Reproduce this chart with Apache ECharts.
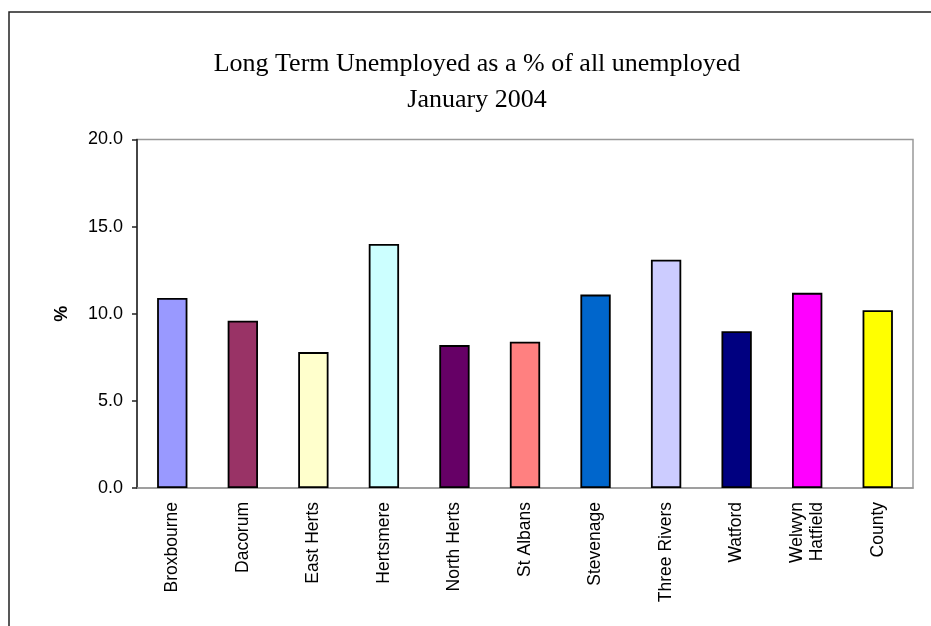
<!DOCTYPE html>
<html>
<head>
<meta charset="utf-8">
<script src="https://cdn.jsdelivr.net/npm/echarts@6/dist/echarts.min.js"></script>
<style>
html,body{margin:0;padding:0;background:#fff;}
#chart{width:931px;height:626px;}
</style>
</head>
<body>
<div id="chart"></div>
<script>
const titleLines = ['Long Term Unemployed as a % of all unemployed', 'January 2004'];
const categories = ['Broxbourne', 'Dacorum', 'East Herts', 'Hertsmere', 'North Herts', 'St Albans', 'Stevenage', 'Three Rivers', 'Watford', 'Welwyn\nHatfield', 'County'];
const values = [10.9, 9.6, 7.8, 14.0, 8.2, 8.4, 11.1, 13.1, 9.0, 11.2, 10.2];
const barColors = ['#9999FF', '#993366', '#FFFFCC', '#CCFFFF', '#660066', '#FF8080', '#0066CC', '#CCCCFF', '#000080', '#FF00FF', '#FFFF00'];
const yTicks = [0, 5, 20];
const yAxisName = '%';

const chart = echarts.init(document.getElementById('chart'), null, {renderer: 'canvas'});
chart.setOption({
  animation: false,
  backgroundColor: '#fff',
  graphic: [
    {type: 'rect', shape: {x: 9, y: 12, width: 960, height: 660}, style: {fill: 'none', stroke: '#222', lineWidth: 1.5}, silent: true, z: 0},
    {type: 'rect', shape: {x: 137, y: 139.5, width: 776, height: 348.5}, style: {fill: 'none', stroke: '#999', lineWidth: 1.5}, silent: true, z: 0},
    {type: 'text', x: 477, y: 64, style: {text: titleLines[0], font: '26px "Liberation Serif", "Times New Roman", serif', fill: '#000', textAlign: 'center', textVerticalAlign: 'middle'}},
    {type: 'text', x: 477, y: 100, style: {text: titleLines[1], font: '26px "Liberation Serif", "Times New Roman", serif', fill: '#000', textAlign: 'center', textVerticalAlign: 'middle'}}
  ],
  grid: {left: 137, top: 139.5, right: 18, bottom: 138, containLabel: false},
  xAxis: {
    type: 'category',
    data: categories,
    axisLine: {show: true, lineStyle: {color: '#999', width: 1.5}},
    axisTick: {show: false},
    axisLabel: {rotate: 90, margin: 14, fontFamily: '"Liberation Sans", Arial, sans-serif', fontSize: 17.5, color: '#000', lineHeight: 20, interval: 0}
  },
  yAxis: {
    type: 'value',
    min: yTicks[0],
    max: yTicks[2],
    interval: yTicks[1],
    name: yAxisName,
    nameLocation: 'middle',
    nameRotate: 90,
    nameGap: 66,
    nameTextStyle: {fontFamily: '"Liberation Sans", Arial, sans-serif', fontSize: 18, fontWeight: 'bold', color: '#000'},
    axisLine: {show: true, lineStyle: {color: '#222', width: 1.5}},
    axisTick: {show: true, length: 5, lineStyle: {color: '#222', width: 1.5}},
    splitLine: {show: false},
    axisLabel: {margin: 14, fontFamily: '"Liberation Sans", Arial, sans-serif', fontSize: 18, color: '#000', formatter: v => v.toFixed(1)}
  },
  series: [{
    type: 'bar',
    data: values.map((v, i) => ({value: v, itemStyle: {color: barColors[i]}})),
    barWidth: '43%',
    itemStyle: {borderColor: '#000', borderWidth: 1.8}
  }]
});
</script>
</body>
</html>
